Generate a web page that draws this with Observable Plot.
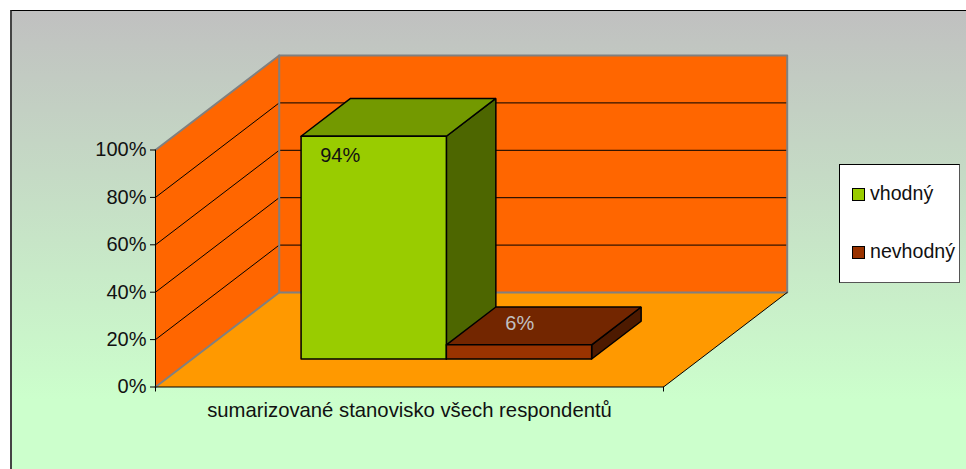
<!DOCTYPE html>
<html>
<head>
<meta charset="utf-8">
<script src="https://cdn.jsdelivr.net/npm/d3@7"></script>
<script src="https://cdn.jsdelivr.net/npm/@observablehq/plot@0.6"></script>
<style>
  html, body { margin: 0; padding: 0; background: #fff; overflow: hidden; }
  body { width: 966px; height: 469px; position: relative; font-family: "Liberation Sans", Arial, sans-serif; }
  #frame { position: absolute; left: 10px; top: 10px; width: 960px; height: 465px; box-sizing: border-box;
           border-left: 2px solid #444; border-top: 1px solid #000;
           background: linear-gradient(#c0c0c0 0%, #ccffcc 84%, #ccffcc 100%); }
  #chart { position: absolute; left: 0; top: 0; }
  #legend { position: absolute; left: 839px; top: 164px; width: 121px; height: 119px; box-sizing: border-box;
            background: #fff; border: 1px solid #000; border-right-color: #555; border-bottom-color: #555; }
  .item { position: absolute; left: 12px; height: 13px; display: flex; align-items: center; font-size: 19.6px; color: #111; white-space: nowrap; }
  .item span { position: relative; top: -1px; }
  .swatch { width: 13px; height: 13px; box-sizing: border-box; border: 1.5px solid #000; margin-right: 5px; flex: none; }
</style>
</head>
<body>
<div id="frame"></div>
<div id="chart"></div>
<div id="legend"></div>
<script>
const categories = ["vhodný", "nevhodný"];
const values = [94, 6];
const valueLabels = ["94%", "6%"];
const yTicks = [0, 20, 40, 60, 80, 100];
const axisLabel = "sumarizované stanovisko všech respondentů";
const fronts = ["#99cc00", "#993300"];
const tops = ["#739900", "#732600"];
const sides = ["#4d6600", "#4d1a00"];

// oblique projection: depth w (0..1) shifts a point along x and y, in data units
const SX = 123.7 / 508, SY = 94.5 / 2.37;
const P = (u, v, w) => ({x: u + w * SX, y: v + w * SY});
const poly = (pts, fill, stroke, strokeWidth) =>
  Plot.line([...pts, pts[0]].map(p => P(...p)), {x: "x", y: "y", fill, stroke, strokeWidth, strokeLinejoin: "miter", curve: "linear"});

const path = (pts, stroke, strokeWidth) =>
  Plot.line(pts.map(p => P(...p)), {x: "x", y: "y", stroke, strokeWidth});

const U0 = 0.2145, BW = 0.286, W0 = 0.296, W1 = 0.696;
const bar = (i) => {
  const a = U0 + i * BW, b = a + BW, v = values[i];
  return [
    poly([[b, 0, W0], [b, 0, W1], [b, v, W1], [b, v, W0]], sides[i], "#000", 1.5),
    poly([[a, v, W0], [b, v, W0], [b, v, W1], [a, v, W1]], tops[i], "#000", 1.5),
    poly([[a, 0, W0], [b, 0, W0], [b, v, W0], [a, v, W0]], fronts[i], "#000", 1.5)
  ];
};

const inner = yTicks.slice(1, -1);

const plot = Plot.plot({
  width: 966,
  height: 469,
  marginLeft: 155,
  marginRight: 303,
  marginTop: 149.5,
  marginBottom: 82.5,
  style: {background: "transparent", fontFamily: "'Liberation Sans', Arial, sans-serif"},
  x: {domain: [0, 1], axis: null},
  y: {domain: [0, 100], axis: null},
  marks: [
    poly([[0, 0, 0], [0, 0, 1], [0, 100, 1], [0, 100, 0]], "#ff6600", "none", 0),
    poly([[0, 0, 1], [1, 0, 1], [1, 100, 1], [0, 100, 1]], "#ff6600", "none", 0),
    poly([[0, 0, 0], [1, 0, 0], [1, 0, 1], [0, 0, 1]], "#ff9900", "none", 0),
    inner.map(t => path([[0, t, 0], [0, t, 1], [1, t, 1]], "#000", 1)),
    path([[0, 100, 0], [0, 100, 1], [1, 100, 1], [1, 0, 1], [0, 0, 1], [0, 0, 0]], "#808080", 2),
    path([[0, 100, 1], [0, 0, 1]], "#808080", 2),
    path([[1, 0, 0], [1, 0, 1]], "#000", 1),
    bar(0),
    bar(1),
    Plot.text([0], {
      x: U0 + BW / 2 + W0 * SX, y: values[0] + W0 * SY, text: () => valueLabels[0],
      dx: -33.5, dy: 19, fontSize: 20, fill: "#111"
    }),
    Plot.text([0], {
      x: U0 + BW * 1.5 + (W0 + W1) / 2 * SX, y: values[1] + (W0 + W1) / 2 * SY, text: () => valueLabels[1],
      dx: -24, dy: -2, fontSize: 20, fill: "#c0c0c0"
    }),
    Plot.ruleX([0], {y1: 0, y2: 100, stroke: "#000"}),
    Plot.ruleY([0], {stroke: "#000"}),
    Plot.axisY({ticks: yTicks, tickFormat: d => d + "%", tickSize: 5, tickPadding: 4, fontSize: 20, label: null, stroke: "#000", fill: "#111"}),
    Plot.axisX({ticks: [0, 1], tickFormat: () => "", tickSize: 5, label: null, stroke: "#000"}),
    Plot.axisX({ticks: [0.5], tickFormat: () => axisLabel, tickSize: 0, tickPadding: 16, fontSize: 20.3, label: null, fill: "#111"})
  ]
});
document.getElementById("chart").appendChild(plot);

const legend = d3.select("#legend");
const itemTops = [23, 81];
categories.forEach((c, i) => {
  const it = legend.append("div").attr("class", "item").style("top", itemTops[i] + "px");
  it.append("div").attr("class", "swatch").style("background", fronts[i]);
  it.append("span").text(c);
});
</script>
</body>
</html>
